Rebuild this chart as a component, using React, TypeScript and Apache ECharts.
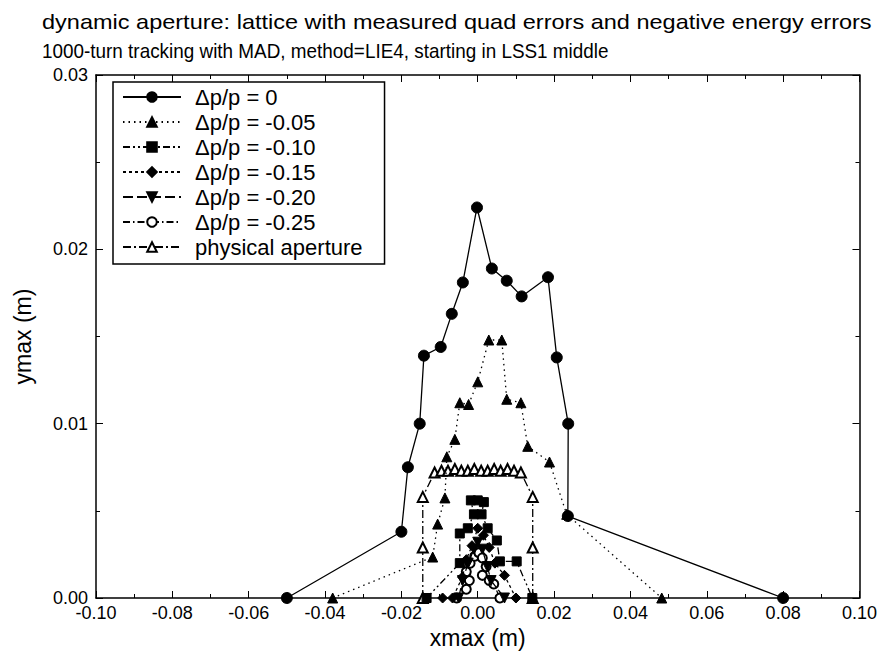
import React, { useEffect, useRef } from "react";
import * as echarts from "echarts";

// Δp/p = 0
const s0X = [-0.05, -0.0200, -0.0183, -0.0152, -0.0141, -0.0097, -0.0068, -0.0039, -0.0002, 0.0037, 0.0076, 0.0115, 0.0184, 0.0207, 0.0237, 0.0236, 0.08];
const s0Y = [0, 0.0038, 0.0075, 0.0100, 0.0139, 0.0144, 0.0163, 0.0181, 0.0224, 0.0189, 0.0182, 0.0173, 0.0184, 0.0138, 0.0100, 0.0047, 0];
// Δp/p = -0.05
const s1X = [-0.038, -0.0118, -0.0105, -0.0086, -0.0081, -0.0060, -0.0047, -0.0024, 0.0000, 0.0029, 0.0063, 0.0076, 0.0113, 0.0131, 0.0188, 0.0233, 0.0482];
const s1Y = [0, 0.00235, 0.00424, 0.00574, 0.0081, 0.0091, 0.0112, 0.0111, 0.0124, 0.0148, 0.0148, 0.0114, 0.0112, 0.0087, 0.0078, 0.0048, 0];
// Δp/p = -0.10
const s2X = [-0.0134, -0.0047, -0.0047, -0.0026, -0.0010, -0.0018, 0.0000, 0.0016, 0.0010, 0.0026, 0.0050, 0.0058, 0.0102, 0.0143];
const s2Y = [0, 0.0020, 0.0037, 0.0040, 0.0048, 0.0056, 0.0056, 0.0055, 0.0048, 0.0040, 0.0033, 0.0021, 0.0021, 0];
// Δp/p = -0.15
const s3X = [-0.0092, -0.0066, -0.0040, -0.0030, -0.0015, 0.0000, 0.0015, 0.0030, 0.0045, 0.0070, 0.0100];
const s3Y = [0, 0, 0.0012, 0.0022, 0.0030, 0.0040, 0.0036, 0.0029, 0.0020, 0.0013, 0];
// Δp/p = -0.20
const s4X = [-0.0050, -0.0040, -0.0025, -0.0010, 0.0000, 0.0012, 0.0025, 0.0035, 0.0070];
const s4Y = [0, 0.0010, 0.0020, 0.0028, 0.0032, 0.0028, 0.0018, 0.0010, 0];
// Δp/p = -0.25
const s5X = [-0.0055, -0.0030, -0.0022, -0.0030, -0.0020, -0.0008, 0.0003, 0.0012, 0.0022, 0.0012, 0.0030, 0.0042, 0.0058];
const s5Y = [0, 0.0005, 0.0010, 0.0015, 0.0020, 0.0024, 0.0026, 0.0023, 0.0018, 0.0013, 0.0010, 0.0008, 0];
// physical aperture
const s6X = [-0.0144, -0.0144, -0.0144, -0.0113, -0.0095, -0.0078, -0.0060, -0.0043, -0.0026, -0.0009, 0.0009, 0.0026, 0.0043, 0.0060, 0.0078, 0.0095, 0.0113, 0.0144, 0.0144, 0.0144];
const s6Y = [0, 0.0029, 0.0058, 0.0072, 0.0073, 0.0073, 0.0074, 0.0073, 0.0073, 0.0074, 0.0073, 0.0073, 0.0074, 0.0073, 0.0074, 0.0073, 0.0072, 0.0058, 0.0029, 0];

const seriesNames = [
  "Δp/p = 0",
  "Δp/p = -0.05",
  "Δp/p = -0.10",
  "Δp/p = -0.15",
  "Δp/p = -0.20",
  "Δp/p = -0.25",
  "physical aperture",
];

const titleLines = [
  "dynamic aperture: lattice with measured quad errors and negative energy errors",
  "1000-turn tracking with MAD, method=LIE4, starting in LSS1 middle",
];

const FONT = "'Liberation Sans', Arial, sans-serif";

const zip = (xs: number[], ys: number[]) => xs.map((x, i) => [x, ys[i]]);

export default function App() {
  const ref = useRef<HTMLDivElement>(null);
  useEffect(() => {
    if (!ref.current) return;
    const chart = echarts.init(ref.current, null, { renderer: "svg" });

    const styles = [
      { symbol: "circle", size: 11, dash: "solid" as any, rotate: 0 },
      { symbol: "triangle", size: 10, dash: [1.5, 4], rotate: 0 },
      { symbol: "rect", size: 9, dash: [7, 3, 2, 3, 2, 3], rotate: 0 },
      { symbol: "diamond", size: 10, dash: [3, 3], rotate: 0 },
      { symbol: "triangle", size: 10, dash: [10, 4], rotate: 180 },
      { symbol: "emptyCircle", size: 9, dash: [7, 3, 1.5, 3], rotate: 0 },
      { symbol: "emptyTriangle", size: 10, dash: [8, 3, 2, 3], rotate: 0 },
    ];
    const datas = [
      zip(s0X, s0Y), zip(s1X, s1Y), zip(s2X, s2Y), zip(s3X, s3Y),
      zip(s4X, s4Y), zip(s5X, s5Y), zip(s6X, s6Y),
    ];

    const series = seriesNames.map((name, i) => ({
      name,
      type: "line",
      data: datas[i],
      symbol: styles[i].symbol,
      symbolSize: styles[i].size,
      symbolRotate: styles[i].rotate,
      showAllSymbol: true,
      lineStyle: { color: "#000", width: 1.3, type: styles[i].dash },
      itemStyle: { color: "#000", borderColor: "#000", borderWidth: 1 },
      z: 10 - i,
    }));

    const axisCommon = {
      axisLine: { show: true, onZero: false, lineStyle: { color: "#000", width: 1.5 } },
      splitLine: { show: false },
      minorTick: { show: true, splitNumber: 2, length: 4, lineStyle: { color: "#000" } },
      axisTick: { show: true, inside: true, length: 7, lineStyle: { color: "#000" } },
    };

    chart.setOption({
      animation: false,
      backgroundColor: "#fff",
      textStyle: { fontFamily: FONT },
      grid: { left: 96, right: 20, top: 75, bottom: 68 },
      graphic: [
        {
          type: "text",
          x: 42,
          y: 22,
          scaleX: 1.12,
          style: { text: titleLines[0], font: `21px ${FONT}`, fill: "#000", textVerticalAlign: "middle" },
        },
        {
          type: "text",
          x: 42,
          y: 51,
          scaleX: 0.9,
          style: { text: titleLines[1], font: `21px ${FONT}`, fill: "#000", textVerticalAlign: "middle" },
        },
      ],
      legend: {
        orient: "vertical",
        left: 113,
        top: 82,
        itemWidth: 58,
        itemHeight: 12,
        itemGap: 3,
        padding: [4, 22, 6, 9],
        backgroundColor: "#fff",
        borderColor: "#000",
        borderWidth: 1.5,
        borderRadius: 0,
        textStyle: { fontFamily: FONT, fontSize: 22, color: "#000", padding: [0, 0, 0, 9] },
        data: seriesNames,
      },
      xAxis: [
        {
          type: "value",
          min: -0.1,
          max: 0.1,
          interval: 0.02,
          position: "bottom",
          name: "xmax (m)",
          nameLocation: "middle",
          nameGap: 27,
          nameTextStyle: { fontFamily: FONT, fontSize: 23, color: "#000" },
          axisLabel: { color: "#000", fontSize: 18, fontFamily: FONT, margin: 6, formatter: (v: number) => v.toFixed(2) },
          ...axisCommon,
        },
        {
          type: "value",
          min: -0.1,
          max: 0.1,
          interval: 0.02,
          position: "top",
          axisLabel: { show: false },
          ...axisCommon,
        },
      ],
      yAxis: [
        {
          type: "value",
          min: 0,
          max: 0.03,
          interval: 0.01,
          position: "left",
          name: "ymax (m)",
          nameLocation: "middle",
          nameGap: 62,
          nameTextStyle: { fontFamily: FONT, fontSize: 23, color: "#000" },
          axisLabel: { color: "#000", fontSize: 18, fontFamily: FONT, margin: 8, formatter: (v: number) => v.toFixed(2) },
          ...axisCommon,
        },
        {
          type: "value",
          min: 0,
          max: 0.03,
          interval: 0.01,
          position: "right",
          axisLabel: { show: false },
          ...axisCommon,
        },
      ],
      series,
    });
    return () => chart.dispose();
  }, []);
  return <div ref={ref} style={{ position: "absolute", left: 0, top: 0, width: 880, height: 666 }} />;
}
